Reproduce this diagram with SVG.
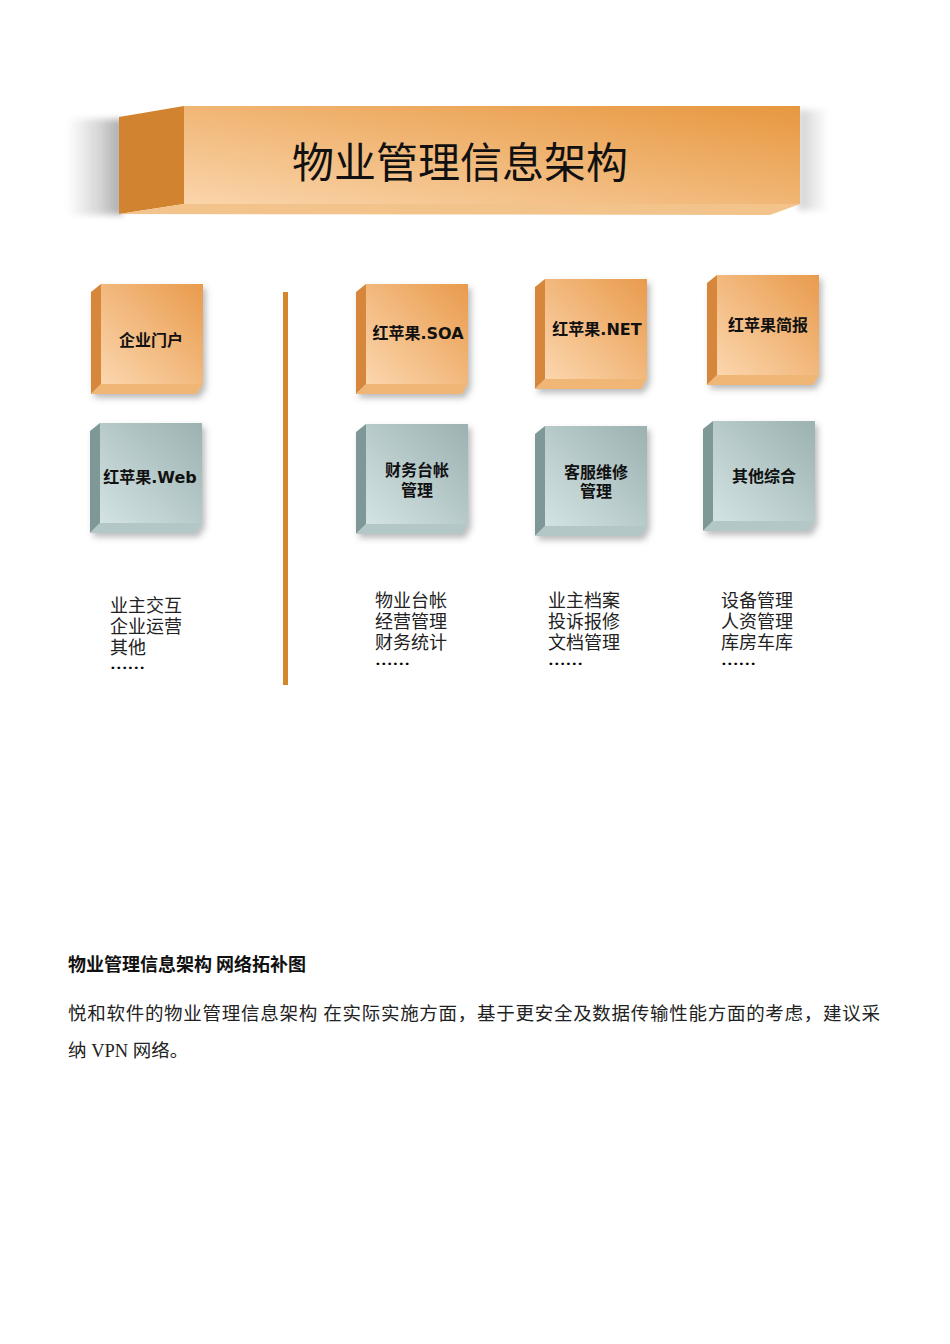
<svg xmlns="http://www.w3.org/2000/svg" width="950" height="1344" viewBox="0 0 950 1344">
<style>
.lbl{font-family:"DejaVu Sans","Noto Sans CJK SC",sans-serif;font-weight:bold;font-size:16px;fill:#111;text-anchor:middle}
.lst{font-family:"Liberation Serif","Noto Sans CJK SC",serif;font-size:18px;fill:#222}
.dots{font-size:14px;font-weight:bold;fill:#000}
.of{fill:url(#gOr)}
.ol{fill:#d6873a}
.ob{fill:#f0b676}
.tf{fill:url(#gTe)}
.tl{fill:#7e9898}
.tb{fill:#b3c7c7}
</style>
<defs>
<linearGradient id="gOr" x1="1" y1="0" x2="0" y2="1">
<stop offset="0" stop-color="#e99b4c"/>
<stop offset="1" stop-color="#fbd6ae"/>
</linearGradient>
<linearGradient id="gTe" x1="1" y1="0" x2="0" y2="1">
<stop offset="0" stop-color="#9cb1b1"/>
<stop offset="1" stop-color="#d3e3e3"/>
</linearGradient>
<linearGradient id="gBan" x1="1" y1="0" x2="0" y2="1">
<stop offset="0" stop-color="#e7973f"/>
<stop offset="1" stop-color="#fad5ab"/>
</linearGradient>
<linearGradient id="gShL" x1="0" y1="0" x2="1" y2="0">
<stop offset="0" stop-color="#ffffff"/>
<stop offset="0.6" stop-color="#d4d4d4"/>
<stop offset="1" stop-color="#a8a8a8"/>
</linearGradient>
<linearGradient id="gShR" x1="0" y1="0" x2="1" y2="0">
<stop offset="0" stop-color="#d0d0d0"/>
<stop offset="1" stop-color="#ffffff"/>
</linearGradient>
<filter id="blur" x="-20%" y="-20%" width="140%" height="140%">
<feGaussianBlur stdDeviation="3"/>
</filter>
<filter id="sh" x="-20%" y="-20%" width="150%" height="150%">
<feDropShadow dx="3" dy="4" stdDeviation="3" flood-color="#555" flood-opacity="0.4"/>
</filter>
<g id="boxO" filter="url(#sh)">
<rect class="of" x="0" y="0" width="102" height="100"/>
<polygon class="ol" points="-10,8 0,0 0,100 -10,110"/>
<polygon class="ob" points="-10,110 0,100 102,100 96,110"/>
</g>
<g id="boxT" filter="url(#sh)">
<rect class="tf" x="0" y="0" width="102" height="100"/>
<polygon class="tl" points="-10,8 0,0 0,100 -10,110"/>
<polygon class="tb" points="-10,110 0,100 102,100 96,110"/>
</g>
</defs>
<rect width="950" height="1344" fill="#fff"/>

<g id="banner">
<rect x="67" y="119" width="56" height="96" fill="url(#gShL)" filter="url(#blur)"/>
<rect x="798" y="110" width="30" height="100" fill="url(#gShR)" filter="url(#blur)"/>
<rect x="184" y="106" width="616" height="98" fill="url(#gBan)"/>
<polygon points="119,117 184,106 184,204 119,214" fill="#d2832f"/>
<polygon points="119,214 184,204 800,204 770,215" fill="#f3c38c"/>
<text x="460" y="178" font-family="Noto Sans CJK SC, sans-serif" font-size="42" fill="#111" text-anchor="middle">物业管理信息架构</text>
</g>

<g id="n-portal"><use href="#boxO" x="101" y="284"/><text class="lbl" x="151" y="346" font-size="15">企业门户</text></g>
<g id="n-soa"><use href="#boxO" x="366" y="284"/><text class="lbl" x="418" y="339">红苹果.SOA</text></g>
<g id="n-net"><use href="#boxO" x="545" y="279"/><text class="lbl" x="597" y="335">红苹果.NET</text></g>
<g id="n-brief"><use href="#boxO" x="717" y="275"/><text class="lbl" x="768" y="331" font-size="15">红苹果简报</text></g>

<g id="n-web"><use href="#boxT" x="100" y="423"/><text class="lbl" x="150" y="483">红苹果.Web</text></g>
<g id="n-fin"><use href="#boxT" x="366" y="424"/><text class="lbl" x="417" y="476" font-size="15">财务台帐</text><text class="lbl" x="417" y="496" font-size="15">管理</text></g>
<g id="n-svc"><use href="#boxT" x="545" y="426"/><text class="lbl" x="596" y="478" font-size="15">客服维修</text><text class="lbl" x="596" y="497" font-size="15">管理</text></g>
<g id="n-other"><use href="#boxT" x="713" y="421"/><text class="lbl" x="764" y="482" font-size="15">其他综合</text></g>

<g id="connectors">
<rect x="283" y="292" width="5" height="393" fill="#d4872a"/>
</g>

<g id="list1" class="lst">
<text x="110" y="612">业主交互</text>
<text x="110" y="633">企业运营</text>
<text x="110" y="654">其他</text>
<text class="dots" x="110" y="669" textLength="35" lengthAdjust="spacingAndGlyphs">……</text>
</g>
<g id="list2" class="lst">
<text x="375" y="607">物业台帐</text>
<text x="375" y="628">经营管理</text>
<text x="375" y="649">财务统计</text>
<text class="dots" x="375" y="665" textLength="35" lengthAdjust="spacingAndGlyphs">……</text>
</g>
<g id="list3" class="lst">
<text x="548" y="607">业主档案</text>
<text x="548" y="628">投诉报修</text>
<text x="548" y="649">文档管理</text>
<text class="dots" x="548" y="665" textLength="35" lengthAdjust="spacingAndGlyphs">……</text>
</g>
<g id="list4" class="lst">
<text x="721" y="607">设备管理</text>
<text x="721" y="628">人资管理</text>
<text x="721" y="649">库房车库</text>
<text class="dots" x="721" y="665" textLength="35" lengthAdjust="spacingAndGlyphs">……</text>
</g>

<g id="caption">
<text x="68" y="971" font-family="Noto Sans CJK SC, sans-serif" font-weight="bold" font-size="18" fill="#111">物业管理信息架构 网络拓补图</text>
<text x="68" y="1020" font-family="Liberation Serif, Noto Sans CJK SC, serif" font-size="18.5" fill="#222" textLength="812" lengthAdjust="spacing">悦和软件的物业管理信息架构 在实际实施方面，基于更安全及数据传输性能方面的考虑，建议采</text>
<text x="68" y="1057" font-family="Liberation Serif, Noto Sans CJK SC, serif" font-size="18.5" fill="#222">纳 VPN 网络。</text>
</g>
</svg>
